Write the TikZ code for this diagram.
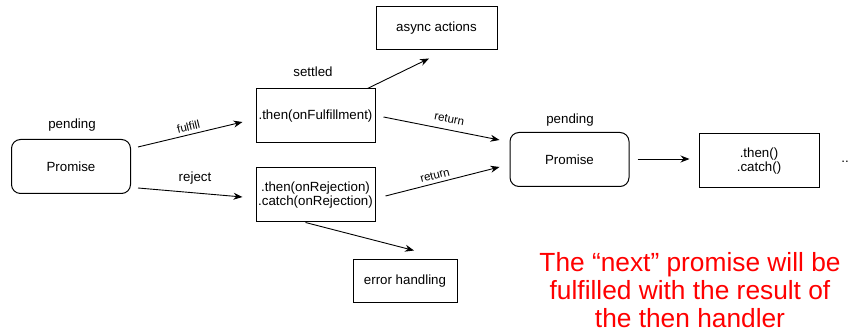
\documentclass[tikz,border=0pt]{standalone}
\usepackage{fontspec}
\setmainfont{Liberation Sans}
\usetikzlibrary{arrows.meta,calc}
\begin{document}
\begin{tikzpicture}[x=1pt,y=1pt,
  box/.style={draw,line width=1pt,minimum width=119pt,minimum height=54pt,inner sep=1pt,align=center,font=\fontsize{13.3}{14.5}\selectfont},
  rbox/.style={box,rounded corners=9pt},
  lbl/.style={font=\fontsize{13.3}{15}\selectfont},
  slbl/.style={font=\fontsize{11.5}{13}\selectfont,sloped,above},
  conn/.style={line width=0.9pt,-{Stealth[length=9pt,width=7pt]}}]
\useasboundingbox (0,0) rectangle (850,336);
\node[rbox] (p1) at (71,169.5) {Promise};
\node[lbl] (pend1) at (72,211) {pending};
\node[box] (thenF) at (315.5,220) {.then(onFulfillment)};
\node[lbl] (settled) at (313,264) {settled};
\node[box] (thenR) at (315.5,141) {.then(onRejection)\\.catch(onRejection)};
\node[box,minimum width=121pt,minimum height=43pt] (async) at (436.5,307.5) {async actions};
\node[box,minimum width=104pt,minimum height=43pt] (err) at (405,54.5) {error handling};
\node[rbox] (p2) at (569.5,176.5) {Promise};
\node[lbl] (pend2) at (570,216) {pending};
\node[box,minimum width=120pt] (tc) at (759,175) {.then()\\.catch()};
\node[lbl] (dots) at (845,174) {..};
\node[text=red,align=center,font=\fontsize{26.3}{28}\selectfont] (note) at (690,46)
  {The “next” promise will be\\fulfilled with the result of\\the then handler};

\draw[conn] ($(p1.east)+(7,19.5)$) -- node[slbl,pos=0.5] {fulfill} ($(thenF.west)+(-13,-6)$);
\draw[conn] ($(p1.east)+(7,-21.5)$) -- ($(thenR.west)+(-13,-2)$);
\node[lbl] (rej) at (195,158) {reject};
\draw[conn] ($(thenF.north east)+(-8,0)$) -- ($(async.south)+(-7.5,-8)$);
\draw[conn] ($(thenF.east)+(8,-1)$) -- node[slbl,pos=0.55,yshift=3pt] {return} ($(p2.west)+(-10,19.5)$);
\draw[conn] ($(thenR.east)+(10,-1)$) -- node[slbl,pos=0.45] {return} ($(p2.west)+(-10,-7.5)$);
\draw[conn] ($(p2.east)+(8,0.5)$) -- ($(tc.west)+(-9,2)$);
\draw[conn] ($(thenR.south)+(-10,0)$) -- ($(err.north)+(9,9)$);
\end{tikzpicture}
\end{document}
